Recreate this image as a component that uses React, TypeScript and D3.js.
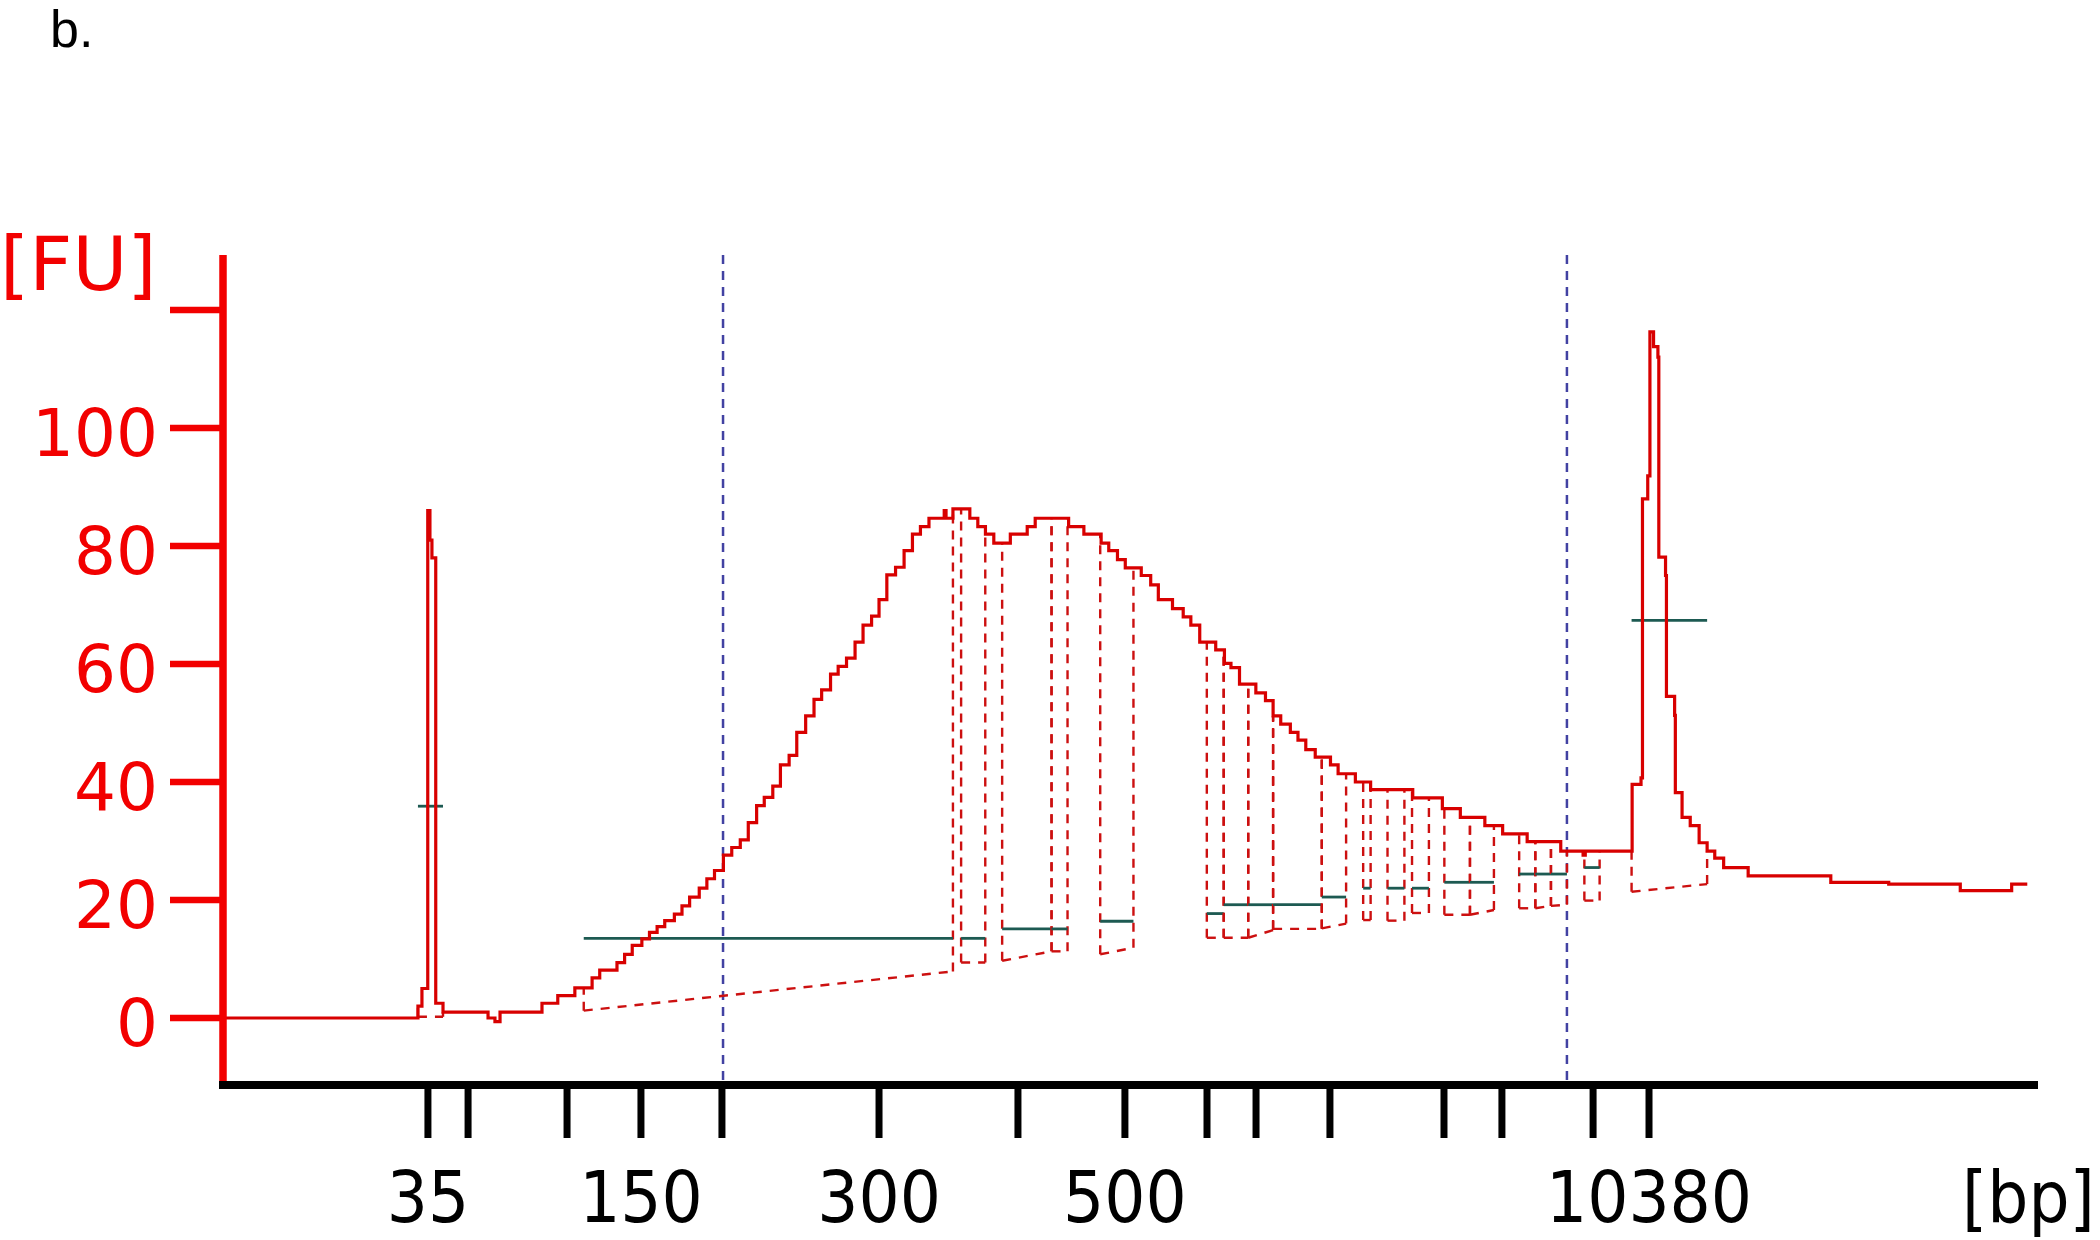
import React from "react";
import * as d3 from "d3";

// Ladder (High Sensitivity DNA) sizes and their migration times [s]
const LADDER_BP = [35, 50, 100, 150, 200, 300, 400, 500, 600, 700, 1000, 2000, 3000, 7000, 10380];
const LADDER_TIME = [41.34, 43.55, 49.0, 53.07, 57.53, 66.18, 73.83, 79.72, 84.24, 86.94, 91.01, 97.29, 100.48, 105.5, 108.58];
const LABELED_BP = [35, 150, 300, 500, 10380];

const Y_TICKS = [0, 20, 40, 60, 80, 100, 120];
const Y_LABELS = [0, 20, 40, 60, 80, 100];

// Electropherogram trace (step samples): migration time [s] and fluorescence [FU]
const TRACE_TIME = [
  30.0, 40.79, 41.01, 41.33, 41.45, 41.56, 41.77, 42.17, 44.65, 45.03, 45.31, 47.62,
  48.49, 49.43, 50.38, 50.8, 51.75, 52.17, 52.59, 53.12, 53.54, 53.96, 54.38, 54.91,
  55.33, 55.75, 56.28, 56.7, 57.12, 57.61, 58.07, 58.54, 58.98, 59.44, 59.86, 60.33,
  60.75, 61.23, 61.65, 62.14, 62.6, 63.02, 63.51, 63.93, 64.39, 64.86, 65.3, 65.77,
  66.18, 66.61, 67.09, 67.56, 68.02, 68.46, 68.93, 69.77, 69.87, 70.25, 71.18, 71.62,
  72.04, 72.5, 73.41, 74.34, 74.78, 76.62, 77.46, 78.41, 78.83, 79.31, 79.74, 80.62,
  81.14, 81.56, 82.34, 82.93, 83.35, 83.84, 84.72, 85.2, 85.56, 86.03, 86.93, 87.46,
  87.88, 88.3, 88.83, 89.25, 89.68, 90.2, 91.04, 91.46, 92.41, 93.25, 95.57, 97.2,
  98.19, 99.54, 100.52, 101.87, 103.72, 104.95, 105.07, 107.65, 108.14, 108.22, 108.51, 108.63,
  108.83, 109.07, 109.12, 109.49, 109.54, 109.99, 110.03, 110.4, 110.85, 111.34, 111.78, 112.2,
  112.69, 114.04, 118.59, 121.78, 125.72, 128.55, 129.41,
];
const TRACE_FU = [
  0, 2, 5, 86, 81, 78, 2.5, 1, 0, -0.6, 1, 2.5,
  3.8, 5.1, 6.8, 8.1, 9.4, 10.8, 12.3, 13.4, 14.5, 15.5, 16.5, 17.6,
  19.0, 20.5, 22.0, 23.6, 25.0, 27.6, 28.9, 30.2, 33.1, 36.0, 37.4, 39.3,
  42.9, 44.5, 48.4, 51.2, 54.0, 55.6, 58.3, 59.6, 61.0, 63.7, 66.6, 68.1,
  70.9, 75.1, 76.4, 79.2, 82.0, 83.3, 84.7, 86.0, 84.7, 86.3, 84.7, 83.3,
  82.0, 80.5, 82.0, 83.3, 84.7, 83.3, 82.0, 80.5, 79.2, 77.7, 76.3, 75.0,
  73.4, 70.9, 69.4, 68.0, 66.6, 63.7, 62.4, 60.1, 59.4, 56.6, 55.1, 53.8,
  51.2, 49.8, 48.4, 47.1, 45.5, 44.2, 42.9, 41.4, 40.0, 38.7, 37.3, 35.5,
  34.0, 32.6, 31.2, 29.9, 28.3, 27.6, 28.3, 39.6, 40.7, 88.0, 91.9, 116.3,
  113.8, 112.0, 78.1, 75.0, 54.5, 51.3, 38.2, 34.0, 32.6, 29.7, 28.3, 27.1,
  25.5, 24.1, 23.0, 22.7, 21.6, 22.7, 22.7,
];

// Detected peaks: borders [s], baseline at borders [FU], peak mark level [FU]
const PEAK_START = [40.79, 49.92, 70.7, 72.96, 75.68, 78.36, 84.23, 85.16, 86.51, 87.88, 90.56, 92.84, 94.18, 95.53, 97.31, 98.72, 101.43, 102.32, 103.18, 105.02, 107.62];
const PEAK_END = [42.17, 70.25, 72.03, 75.68, 76.56, 80.19, 85.16, 86.51, 87.88, 90.56, 91.9, 93.25, 95.11, 96.46, 98.72, 100.04, 102.32, 103.18, 104.06, 105.86, 111.78];
const PEAK_BASE_START = [0.2, 1.25, 9.4, 9.7, 11.3, 10.8, 13.6, 13.6, 13.6, 15.1, 15.2, 16.6, 16.5, 17.8, 17.5, 17.5, 18.6, 18.6, 19.0, 19.9, 21.4];
const PEAK_BASE_END = [0.2, 7.9, 9.4, 11.3, 11.3, 11.9, 13.6, 13.6, 14.9, 15.1, 16.0, 16.6, 16.5, 17.8, 17.5, 18.3, 18.6, 19.0, 19.2, 19.9, 22.7];
const PEAK_MARK_FU = [35.9, 13.5, 13.5, 15.1, 15.1, 16.4, 17.7, 19.2, 19.2, 19.2, 20.5, 22.0, 22.0, 22.0, 23.0, 23.0, 24.4, 24.4, 24.4, 25.5, 67.4];

// Region of interest borders [s]
const REGION_TIME = [57.59, 104.06];

const X_DOMAIN = [30, 130];
const Y_DOMAIN = [0, 120];

export default function App() {
  const x = d3.scaleLinear().domain(X_DOMAIN).range([222, 2038]);
  const y = d3.scaleLinear().domain(Y_DOMAIN).range([1018, 310]);

  const pts = TRACE_TIME.map((t, i) => [t, TRACE_FU[i]] as [number, number]);
  const line = d3
    .line<[number, number]>()
    .x((d) => x(d[0]))
    .y((d) => y(d[1]))
    .curve(d3.curveStepAfter);

  const traceAt = (t: number) => {
    const i = Math.max(0, d3.bisectRight(TRACE_TIME, t) - 1);
    return TRACE_FU[i];
  };

  const axisTop = 255;
  const axisY = 1085;
  const red = "#f20000";
  const dashRed = "#cc1010";
  const green = "#1d5a52";
  const blue = "#4242a2";

  return (
    <svg
      width={2100}
      height={1240}
      style={{ position: "absolute", left: 0, top: 0, background: "#fff" }}
    >
      <rect x={0} y={0} width={2100} height={1240} fill="#fff" />
      <text x={50} y={47} fontFamily="Liberation Sans, Arial, sans-serif" fontSize={52} fill="#000">
        b.
      </text>

      {/* region borders */}
      {REGION_TIME.map((t, i) => (
        <line
          key={"r" + i}
          x1={x(t)}
          x2={x(t)}
          y1={axisTop}
          y2={axisY}
          stroke={blue}
          strokeWidth={2.5}
          strokeDasharray="9 7"
        />
      ))}

      {/* peak baselines, borders and marks */}
      {PEAK_START.map((s, i) => {
        const e = PEAK_END[i];
        return (
          <g key={"p" + i}>
            <line
              x1={x(s)}
              x2={x(e)}
              y1={y(PEAK_BASE_START[i])}
              y2={y(PEAK_BASE_END[i])}
              stroke={dashRed}
              strokeWidth={2.4}
              strokeDasharray="9 8"
            />
            <line
              x1={x(s)}
              x2={x(s)}
              y1={y(PEAK_BASE_START[i])}
              y2={y(traceAt(s))}
              stroke={dashRed}
              strokeWidth={2.4}
              strokeDasharray="9 7"
            />
            <line
              x1={x(e)}
              x2={x(e)}
              y1={y(PEAK_BASE_END[i])}
              y2={y(traceAt(e))}
              stroke={dashRed}
              strokeWidth={2.4}
              strokeDasharray="9 7"
            />
            <line
              x1={x(s)}
              x2={x(e)}
              y1={y(PEAK_MARK_FU[i])}
              y2={y(PEAK_MARK_FU[i])}
              stroke={green}
              strokeWidth={2.8}
            />
          </g>
        );
      })}

      {/* trace */}
      <path d={line(pts) || ""} fill="none" stroke="#d80000" strokeWidth={3.2} />

      {/* y axis */}
      <line x1={223} x2={223} y1={axisTop} y2={axisY} stroke={red} strokeWidth={7.5} />
      {Y_TICKS.map((v) => (
        <line key={"yt" + v} x1={170} x2={223} y1={y(v)} y2={y(v)} stroke={red} strokeWidth={6.5} />
      ))}
      {Y_LABELS.map((v) => (
        <text
          key={"yl" + v}
          x={158}
          y={y(v) + 28}
          textAnchor="end"
          fontFamily="DejaVu Sans, Verdana, sans-serif"
          fontSize={66}
          fill={red}
        >
          {v}
        </text>
      ))}
      <text x={0} y={290} fontFamily="DejaVu Sans, Verdana, sans-serif" fontSize={75} fill={red}>
        [FU]
      </text>

      {/* x axis */}
      <line x1={219} x2={2038} y1={axisY} y2={axisY} stroke="#000" strokeWidth={8} />
      {LADDER_TIME.map((t, i) => (
        <line
          key={"xt" + i}
          x1={x(t)}
          x2={x(t)}
          y1={axisY}
          y2={1138}
          stroke="#000"
          strokeWidth={7}
        />
      ))}
      {LADDER_BP.map((bp, i) =>
        LABELED_BP.includes(bp) ? (
          <text
            key={"xl" + bp}
            x={x(LADDER_TIME[i])}
            y={1222}
            textAnchor="middle"
            fontFamily="DejaVu Sans Condensed, DejaVu Sans, sans-serif"
            fontStretch="condensed"
            fontSize={72}
            fill="#000"
          >
            {bp}
          </text>
        ) : null
      )}
      <text
        x={1962}
        y={1222}
        fontFamily="DejaVu Sans Condensed, DejaVu Sans, sans-serif"
        fontStretch="condensed"
        fontSize={72}
        fill="#000"
      >
        [bp]
      </text>
    </svg>
  );
}
